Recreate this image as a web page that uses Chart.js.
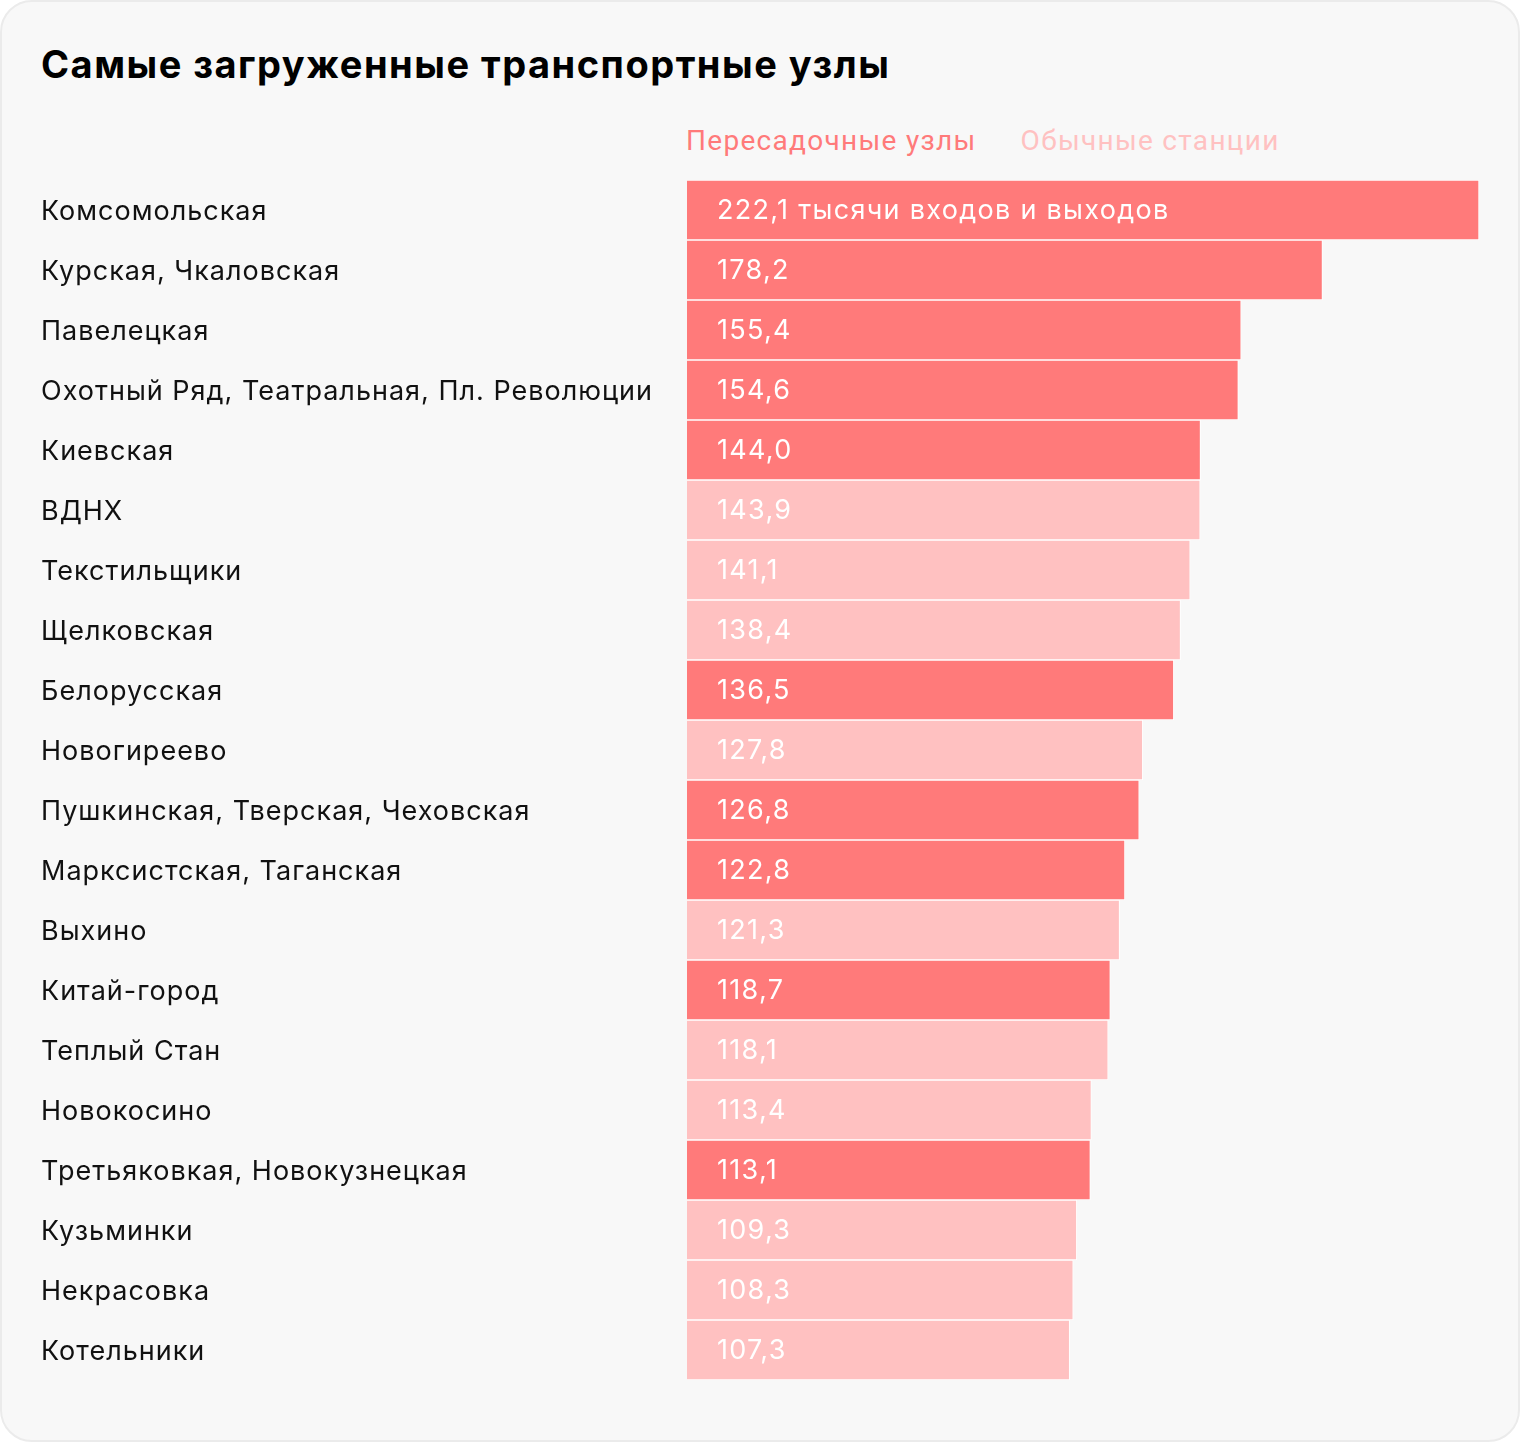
<!DOCTYPE html>
<html lang="ru">
<head>
<meta charset="utf-8">
<script src="https://cdn.jsdelivr.net/npm/chart.js@4/dist/chart.umd.min.js"></script>
<style>
  html, body { margin: 0; padding: 0; background: #ffffff; }
  .card {
    position: relative;
    width: 1520px; height: 1442px;
    box-sizing: border-box;
    border: 2px solid #ebebeb;
    border-radius: 32px;
    background: #f8f8f8;
    overflow: hidden;
  }
  .title {
    position: absolute; left: 39px; top: 39px;
    font: 700 38px Inter, "Liberation Sans", sans-serif;
    color: #000;
    letter-spacing: 1.5px;
  }
  .legend {
    position: absolute; left: 684px; top: 122px;
    font: 400 28px Roboto, sans-serif;
    letter-spacing: 1.3px;
  }
  .legend span { margin-right: 44px; }
  canvas { position: absolute; left: -2px; top: -2px; }
</style>
</head>
<body>
<div class="card">
  <div class="title">Самые загруженные транспортные узлы</div>
  <div class="legend">
    <span style="color:#ff7a7a">Пересадочные узлы</span><span style="color:#ffc1c1">Обычные станции</span>
  </div>
  <canvas id="hubChart" width="1520" height="1442"></canvas>
</div>
<script>
const stations = [
    'Комсомольская',
    'Курская, Чкаловская',
    'Павелецкая',
    'Охотный Ряд, Театральная, Пл. Революции',
    'Киевская',
    'ВДНХ',
    'Текстильщики',
    'Щелковская',
    'Белорусская',
    'Новогиреево',
    'Пушкинская, Тверская, Чеховская',
    'Марксистская, Таганская',
    'Выхино',
    'Китай-город',
    'Теплый Стан',
    'Новокосино',
    'Третьяковкая, Новокузнецкая',
    'Кузьминки',
    'Некрасовка',
    'Котельники',
];
const passengers = [222.1, 178.2, 155.4, 154.6, 144.0, 143.9, 141.1, 138.4, 136.5, 127.8,
    126.8, 122.8, 121.3, 118.7, 118.1, 113.4, 113.1, 109.3, 108.3, 107.3];
// true = пересадочный узел, false = обычная станция
const isHub = [true, true, true, true, true, false, false, false, true, false,
    true, true, false, true, false, false, true, false, false, false];

const hubColor = '#ff7a7a';
const plainColor = '#ffc1c1';

// немного разрядки, как в оригинале
const spacing = {
    id: 'spacing',
    beforeDraw(chart) {
        chart.ctx.letterSpacing = '1px';
    },
};

const valueLabels = {
    id: 'valueLabels',
    afterDatasetsDraw(chart) {
        const ctx = chart.ctx;
        const meta = chart.getDatasetMeta(0);
        ctx.save();
        ctx.letterSpacing = '1.3px';
        ctx.fillStyle = '#ffffff';
        ctx.font = '400 27px Inter, sans-serif';
        ctx.textAlign = 'left';
        ctx.textBaseline = 'middle';
        meta.data.forEach((bar, i) => {
            let text = passengers[i].toFixed(1).replace('.', ',');
            if (i === 0) text += ' тысячи входов и выходов';
            ctx.fillText(text, bar.base + 30, bar.y + 1);
        });
        ctx.restore();
    },
};

const ctx = document.getElementById('hubChart').getContext('2d');

new Chart(ctx, {
    type: 'bar',
    data: {
        labels: stations,
        datasets: [{
            data: passengers,
            backgroundColor: isHub.map(h => (h ? hubColor : plainColor)),
            borderColor: '#ffffff',
            borderWidth: { top: 1, bottom: 1, right: 1, left: 0 },
            borderSkipped: false,
            barPercentage: 1,
            categoryPercentage: 1,
        }],
    },
    options: {
        indexAxis: 'y',
        responsive: false,
        animation: false,
        layout: {
            padding: { left: 41, right: 41, top: 180, bottom: 62 },
        },
        plugins: {
            legend: { display: false },
            tooltip: { enabled: false },
        },
        scales: {
            x: {
                display: false,
                min: 0,
                max: 222.1,
            },
            y: {
                grid: { display: false },
                border: { display: false },
                afterFit(scale) {
                    scale.width = 646;
                },
                ticks: {
                    crossAlign: 'far',
                    labelOffset: 2,
                    color: '#111111',
                    font: { family: 'Inter, sans-serif', size: 27 },
                },
            },
        },
    },
    plugins: [spacing, valueLabels],
});
</script>
</body>
</html>
